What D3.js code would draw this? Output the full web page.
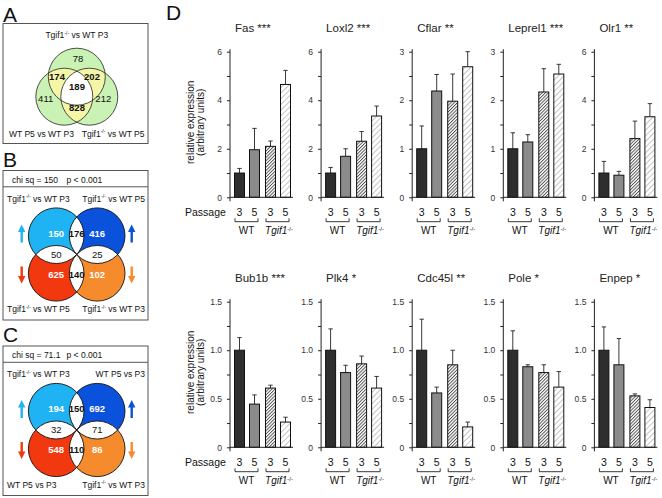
<!DOCTYPE html>
<html>
<head>
<meta charset="utf-8">
<script src="https://cdn.jsdelivr.net/npm/d3@7"></script>
<style>
  body { margin: 0; background: #fff; }
  text { font-family: "Liberation Sans", Arial, Helvetica, sans-serif; }
</style>
</head>
<body>
<svg id="fig" width="662" height="498"></svg>
<script>
// ---- panel A (3-way venn) ----
const vennATitles = ['Tgif1|-/-| vs WT P3', 'WT P5 vs WT P3', 'Tgif1|-/-| vs WT P5']
const vennAKeys = ['T', 'TL', 'TR', 'TLR', 'L', 'LR', 'R']
const vennAValues = [78, 174, 202, 189, 411, 828, 212]

// ---- panels B, C (4-way venn) ----
const quadKeys = ['TL', 'T', 'TR', 'L', 'R', 'BL', 'B', 'BR']
const vennBValues = [150, 176, 416, 50, 25, 625, 140, 102]
const vennBLabels = ['Tgif1|-/-| vs WT P3', 'Tgif1|-/-| vs WT P5', 'Tgif1|-/-| vs WT P5', 'Tgif1|-/-| vs WT P3']
const vennBStat = ['chi sq = 150', 'p < 0.001']
const vennCValues = [194, 150, 692, 32, 71, 548, 110, 86]
const vennCLabels = ['Tgif1|-/-| vs WT P3', 'WT P5 vs P3', 'WT P5 vs P3', 'Tgif1|-/-| vs WT P3']
const vennCStat = ['chi sq = 71.1', 'p < 0.001']

// ---- panel D (qPCR bars) ----
const passages = ['3', '5', '3', '5']
const groups = ['WT', 'Tgif1|-/-|']
const genesTop = ['Fas', 'Loxl2', 'Cflar', 'Leprel1', 'Olr1']
const sigTop = ['***', '***', '**', '***', '**']
const meansTop = [
  [1, 1.96, 2.1, 4.65],
  [1, 1.69, 2.31, 3.35],
  [1, 2.19, 1.98, 2.69],
  [1, 1.14, 2.17, 2.54],
  [1, 0.91, 2.42, 3.32]
]
const semTop = [
  [0.19, 0.88, 0.22, 0.58],
  [0.23, 0.31, 0.40, 0.41],
  [0.47, 0.34, 0.56, 0.31],
  [0.33, 0.15, 0.48, 0.20],
  [0.48, 0.16, 0.72, 0.54]
]
const ymaxTop = [6, 6, 3, 3, 6]
const genesBot = ['Bub1b', 'Plk4', 'Cdc45l', 'Pole', 'Enpep']
const sigBot = ['***', '*', '**', '*', '*']
const meansBot = [
  [1, 0.445, 0.61, 0.26],
  [1, 0.77, 0.86, 0.61],
  [1, 0.56, 0.85, 0.21],
  [1, 0.83, 0.77, 0.62],
  [1, 0.85, 0.53, 0.41]
]
const semBot = [
  [0.13, 0.095, 0.03, 0.05],
  [0.22, 0.075, 0.08, 0.12],
  [0.32, 0.06, 0.15, 0.05],
  [0.20, 0.02, 0.08, 0.16],
  [0.24, 0.27, 0.02, 0.08]
]
const ymaxBot = [1.5, 1.5, 1.5, 1.5, 1.5]
const ticks6 = [0, 2, 4, 6]
const ticks3 = [0, 1, 2, 3]
const ticks15 = [0, 0.5, 1.0, 1.5]

const svg = d3.select('#fig')
svg.append('rect').attr('width', 662).attr('height', 498).attr('fill', '#fff')
const defs = svg.append('defs')

function hatch(id, size, color, w) {
  let p = defs.append('pattern')
      .attr('id', id)
      .attr('patternUnits', 'userSpaceOnUse')
      .attr('width', size).attr('height', size)
      .attr('patternTransform', 'rotate(45)')
  p.append('rect').attr('width', size).attr('height', size).attr('fill', '#fff')
  p.append('line').attr('x1', 0.5).attr('y1', 0).attr('x2', 0.5).attr('y2', size)
      .attr('stroke', color).attr('stroke-width', w)
}
hatch('hatchDense', 2.3, '#333', 0.8)
hatch('hatchLight', 4, '#b5b5b5', 0.8)

// text with |superscript| parts
function rich(sel, str, size) {
  str.split('|').forEach((s, i) => {
    if (!s) return
    let t = sel.append('tspan').text(s)
    if (i % 2 === 1) t.attr('font-size', size * 0.6).attr('dy', -size * 0.38).attr('font-style', 'normal')
    else if (i > 0) t.attr('dy', size * 0.38)
  })
  return sel
}

function letter(x, y, s) {
  svg.append('text').attr('x', x).attr('y', y).attr('font-size', 21).attr('fill', '#111').text(s)
}
letter(3, 22, 'A')
letter(3, 167, 'B')
letter(3, 342, 'C')
letter(166, 20, 'D')

// ---------- panel A ----------
{
  let g = svg.append('g')
  g.append('rect').attr('x', 3).attr('y', 23.5).attr('width', 145).attr('height', 120)
      .attr('fill', 'none').attr('stroke', '#555').attr('stroke-width', 1)
  let r = 28.5
  let c = { T: [76.8, 76.7], L: [64.3, 96.7], R: [89.3, 96.7] }
  Object.keys(c).forEach(k => {
    defs.append('clipPath').attr('id', 'clipA' + k)
      .append('circle').attr('cx', c[k][0]).attr('cy', c[k][1]).attr('r', r)
  })
  let circ = (sel, k, fill) => sel.append('circle').attr('cx', c[k][0]).attr('cy', c[k][1]).attr('r', r).attr('fill', fill)
  ;['T', 'L', 'R'].forEach(k => circ(g, k, '#caf2b4'))
  circ(g.append('g').attr('clip-path', 'url(#clipAT)'), 'L', '#f4f5a6')
  circ(g.append('g').attr('clip-path', 'url(#clipAT)'), 'R', '#f4f5a6')
  circ(g.append('g').attr('clip-path', 'url(#clipAL)'), 'R', '#f4f5a6')
  circ(g.append('g').attr('clip-path', 'url(#clipAT)').append('g').attr('clip-path', 'url(#clipAL)'), 'R', '#fff')
  ;['T', 'L', 'R'].forEach(k => circ(g, k, 'none').attr('stroke', '#222').attr('stroke-width', 0.8))

  let pos = { T: [78, 58.5], TL: [57, 76.7], TR: [92, 76.7], TLR: [77, 86.5], L: [45.7, 99], LR: [77, 108], R: [103.3, 99] }
  vennAKeys.forEach((k, i) => {
    g.append('text').attr('x', pos[k][0]).attr('y', pos[k][1]).attr('dy', '0.35em')
      .attr('text-anchor', 'middle').attr('font-size', 9.5)
      .attr('font-weight', k.length > 1 ? 'bold' : 'normal').attr('fill', '#111')
      .text(vennAValues[i])
  })
  rich(g.append('text').attr('x', 76.8).attr('y', 38).attr('text-anchor', 'middle').attr('font-size', 8.5).attr('fill', '#111'), vennATitles[0], 8.5)
  rich(g.append('text').attr('x', 9).attr('y', 136.5).attr('font-size', 8.5).attr('fill', '#111'), vennATitles[1], 8.5)
  rich(g.append('text').attr('x', 144.5).attr('y', 136.5).attr('text-anchor', 'end').attr('font-size', 8.5).attr('fill', '#111'), vennATitles[2], 8.5)
}

// ---------- panels B and C ----------
function quadVenn(id, top, values, labels, stat) {
  let g = svg.append('g')
  let bottom = top + 149.5
  g.append('rect').attr('x', 3).attr('y', top).attr('width', 145).attr('height', bottom - top)
      .attr('fill', 'none').attr('stroke', '#555').attr('stroke-width', 1)
  g.append('line').attr('x1', 3).attr('x2', 148).attr('y1', top + 16.3).attr('y2', top + 16.3)
      .attr('stroke', '#555').attr('stroke-width', 1)
  g.append('text').attr('x', 12).attr('y', top + 12).attr('font-size', 8.5).attr('fill', '#111').text(stat[0])
  g.append('text').attr('x', 66.5).attr('y', top + 12).attr('font-size', 8.5).attr('fill', '#111').text(stat[1])

  let cx = 76.7, cy = top + 84, dx = 20.5, dy = 18.8
  let r = Math.sqrt(dx * dx + dy * dy)
  let c = { TL: [cx - dx, cy - dy], TR: [cx + dx, cy - dy], BL: [cx - dx, cy + dy], BR: [cx + dx, cy + dy] }
  let col = { TL: '#1fb3f3', TR: '#0a52dc', BL: '#f2380e', BR: '#f58b2c' }
  Object.keys(c).forEach(k => {
    defs.append('clipPath').attr('id', id + k)
      .append('circle').attr('cx', c[k][0]).attr('cy', c[k][1]).attr('r', r)
  })
  let circ = (sel, k, fill) => sel.append('circle').attr('cx', c[k][0]).attr('cy', c[k][1]).attr('r', r).attr('fill', fill)
  Object.keys(c).forEach(k => circ(g, k, col[k]))
  ;[['TL', 'TR'], ['TL', 'BL'], ['TR', 'BR'], ['BL', 'BR']].forEach(p => {
    circ(g.append('g').attr('clip-path', `url(#${id + p[0]})`), p[1], '#fff')
  })
  Object.keys(c).forEach(k => circ(g, k, 'none').attr('stroke', '#111').attr('stroke-width', 0.9))

  let pos = {
    TL: [cx - dx, cy - 21], T: [cx, cy - 21], TR: [cx + dx, cy - 21],
    L: [cx - dx, cy], R: [cx + dx, cy],
    BL: [cx - dx, cy + 20], B: [cx, cy + 20], BR: [cx + dx, cy + 20]
  }
  quadKeys.forEach((k, i) => {
    let white = k.length === 2
    g.append('text').attr('x', pos[k][0]).attr('y', pos[k][1]).attr('dy', '0.35em')
      .attr('text-anchor', 'middle').attr('font-size', 9.5)
      .attr('font-weight', (white || k === 'T' || k === 'B') ? 'bold' : 'normal')
      .attr('fill', white ? '#fff' : '#111')
      .text(values[i])
  })
  rich(g.append('text').attr('x', 7).attr('y', top + 31).attr('font-size', 8.5).attr('fill', '#111'), labels[0], 8.5)
  rich(g.append('text').attr('x', 145).attr('y', top + 31).attr('text-anchor', 'end').attr('font-size', 8.5).attr('fill', '#111'), labels[1], 8.5)
  rich(g.append('text').attr('x', 7).attr('y', top + 141.5).attr('font-size', 8.5).attr('fill', '#111'), labels[2], 8.5)
  rich(g.append('text').attr('x', 145).attr('y', top + 141.5).attr('text-anchor', 'end').attr('font-size', 8.5).attr('fill', '#111'), labels[3], 8.5)

  // arrows
  let arrow = (x, y1, y2, fill) => {
    let dir = y2 > y1 ? 1 : -1
    let head = y2
    let base = y2 - dir * 7.5
    g.append('path')
      .attr('d', `M${x - 1.2},${y1} L${x + 1.2},${y1} L${x + 1.2},${base} L${x + 3.7},${base} L${x},${head} L${x - 3.7},${base} L${x - 1.2},${base} Z`)
      .attr('fill', fill)
  }
  arrow(21.7, cy - 12, cy - 30, col.TL)
  arrow(131.7, cy - 12, cy - 30, col.TR)
  arrow(21.7, cy + 12, cy + 29, col.BL)
  arrow(131.7, cy + 12, cy + 29, col.BR)
}
quadVenn('clipB', 170.5, vennBValues, vennBLabels, vennBStat)
quadVenn('clipC', 346, vennCValues, vennCLabels, vennCStat)

// ---------- panel D ----------
const barFills = ['#2e2e2e', '#8b8b8b', 'url(#hatchDense)', 'url(#hatchLight)']

function barPanel(col, y0, gene, sig, means, sems, ymax) {
  let x0 = 230 + col * 91.1
  let g = svg.append('g')
  let y = d3.scaleLinear().domain([0, ymax]).range([y0, y0 - 145.6])
  let x = d3.scaleBand().domain(d3.range(4)).range([x0 + 4.5, x0 + 59.5]).paddingInner(1 / 3)
  let bx = i => x(i) + (i >= 2 ? 1 : 0)
  let major = ymax === 6 ? ticks6 : ymax === 3 ? ticks3 : ticks15
  let step = major[1] - major[0]
  let minor = major.slice(1).map(d => d - step / 2)
  let fmt = ymax === 1.5 ? (d => d === 0 ? '0' : d3.format('.1f')(d)) : d3.format('d')

  let ax = g.append('g').attr('transform', `translate(${x0},0)`)
      .call(d3.axisLeft(y).tickValues(major).tickSize(3).tickPadding(5).tickFormat(fmt))
  ax.select('.domain').remove()
  ax.selectAll('text').attr('font-size', 8.5).attr('fill', '#333').attr('font-family', null)
  ax.selectAll('line').attr('stroke', '#222')
  let ax2 = g.append('g').attr('transform', `translate(${x0},0)`)
      .call(d3.axisLeft(y).tickValues(minor).tickSize(3).tickFormat(''))
  ax2.select('.domain').remove()
  ax2.selectAll('line').attr('stroke', '#222')

  g.append('line').attr('x1', x0).attr('x2', x0).attr('y1', y(ymax) - 2.5).attr('y2', y0 + 4)
      .attr('stroke', '#222').attr('stroke-width', 1)

  // error bars
  g.selectAll('.err').data(means).enter().append('path')
      .attr('d', (d, i) => {
        let cx = bx(i) + x.bandwidth() / 2
        let yt = y(d + sems[i])
        return `M${cx},${y(d)} V${yt} M${cx - 2.2},${yt} H${cx + 2.2}`
      })
      .attr('stroke', '#222').attr('stroke-width', 0.9).attr('fill', 'none')

  g.selectAll('.bar').data(means).enter().append('rect')
      .attr('x', (d, i) => bx(i))
      .attr('y', d => y(d))
      .attr('width', x.bandwidth())
      .attr('height', d => y0 - y(d))
      .attr('fill', (d, i) => barFills[i])
      .attr('stroke', '#111').attr('stroke-width', 1)

  g.append('line').attr('x1', x0).attr('x2', x0 + 63).attr('y1', y0).attr('y2', y0)
      .attr('stroke', '#222').attr('stroke-width', 1)

  g.append('text').attr('x', x0 + 5).attr('y', y0 - 165.5).attr('font-size', 11.5).attr('fill', '#222')
      .text(gene + ' ' + sig)

  // passage numbers and brackets
  passages.forEach((p, i) => {
    g.append('text').attr('x', bx(i) + x.bandwidth() / 2).attr('y', y0 + 18.3)
      .attr('text-anchor', 'middle').attr('font-size', 10.5).attr('fill', '#111').text(p)
  })
  groups.forEach((lab, k) => {
    let a = bx(2 * k) + x.bandwidth() / 2 - 4.5
    let b = bx(2 * k + 1) + x.bandwidth() / 2 + 3.5
    g.append('path').attr('d', `M${a},${y0 + 21} V${y0 + 24.4} H${b} V${y0 + 21}`)
      .attr('stroke', '#222').attr('stroke-width', 0.9).attr('fill', 'none')
    let t = g.append('text').attr('x', (a + b) / 2 + (k === 1 ? 1.5 : 0)).attr('y', y0 + 37)
      .attr('text-anchor', 'middle').attr('font-size', 10).attr('fill', '#111')
      .attr('font-style', k === 1 ? 'italic' : 'normal')
    rich(t, lab, 10)
  })

  if (col === 0) {
    g.append('text').attr('x', 185).attr('y', y0 + 18.3).attr('font-size', 10.5).attr('fill', '#111').text('Passage')
    let yl = g.append('text').attr('transform', `translate(194,${y0 - 75}) rotate(-90)`)
      .attr('text-anchor', 'middle').attr('font-size', 10).attr('fill', '#111')
    yl.append('tspan').attr('x', 0).attr('y', 0).text('relative expression')
    yl.append('tspan').attr('x', 0).attr('y', 9.5).text('(arbitrary units)')
  }
}

genesTop.forEach((gn, i) => barPanel(i, 197.3, gn, sigTop[i], meansTop[i], semTop[i], ymaxTop[i]))
genesBot.forEach((gn, i) => barPanel(i, 447.3, gn, sigBot[i], meansBot[i], semBot[i], ymaxBot[i]))
</script>
</body>
</html>
